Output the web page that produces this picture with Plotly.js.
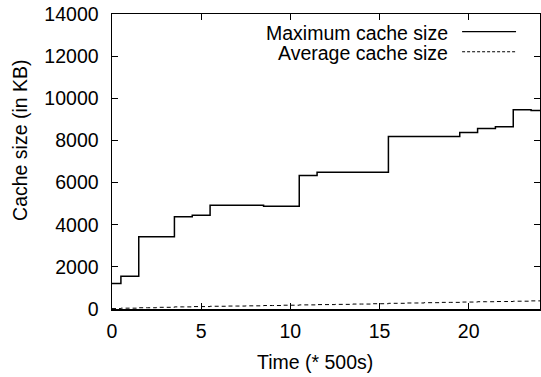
<!DOCTYPE html>
<html>
<head>
<meta charset="utf-8">
<script src="https://cdn.plot.ly/plotly-3.0.1.min.js"></script>
<style>html,body{margin:0;padding:0;background:#fff;}#chart{width:541px;height:377px;}</style>
</head>
<body>
<div id="chart"></div>
<script>
const time = [0,1,2,3,4,5,6,7,8,9,10,11,12,13,14,15,16,17,18,19,20,21,22,23,24];
const maxCache = [1210,1557,3429,3429,4381,4448,4924,4924,4924,4876,4876,6333,6495,6495,6495,6495,8190,8190,8190,8190,8381,8571,8652,9455,9425];
const avgCache = [20,40,60,80,100,115,130,140,150,165,180,195,210,220,235,250,270,285,300,315,330,345,355,370,385];
const seriesNames = ["Maximum cache size","Average cache size"];
const xTitle = "Time (* 500s)";
const yTitle = "Cache size (in KB)";

const FONT = "Liberation Sans, Arial, sans-serif";
const traces = [
  {x: time, y: maxCache, type: "scatter", mode: "lines", name: seriesNames[0],
   line: {shape: "hvh", color: "#000", width: 1.5}},
  {x: time, y: avgCache, type: "scatter", mode: "lines", name: seriesNames[1],
   line: {shape: "hvh", color: "#000", width: 1, dash: "4px,3px"}}
];
const axisCommon = {
  showgrid: false, zeroline: false, showline: true, linecolor: "#000", linewidth: 1.5,
  mirror: "allticks", ticks: "inside", ticklen: 6, tickwidth: 1, tickcolor: "#000",
  tickfont: {family: FONT, size: 19.5, color: "#000"}
};
const layout = {
  width: 541, height: 377,
  margin: {l: 112, r: 1, t: 14, b: 68},
  paper_bgcolor: "#fff", plot_bgcolor: "#fff",
  showlegend: false,
  xaxis: Object.assign({}, axisCommon, {range: [0, 24], tickvals: [0,5,10,15,20], ticklabelstandoff: 4}),
  yaxis: Object.assign({}, axisCommon, {range: [0, 14000], dtick: 2000, tickformat: "d", ticklabelstandoff: 8}),
  annotations: [
    {text: xTitle, xref: "paper", yref: "paper", x: 0.474, y: -0.178, xanchor: "center", yanchor: "middle",
     showarrow: false, font: {family: FONT, size: 19.5, color: "#000"}},
    {text: yTitle, xref: "paper", yref: "paper", x: -0.215, y: 0.573, xanchor: "center", yanchor: "middle",
     textangle: -90, showarrow: false, font: {family: FONT, size: 19.5, color: "#000"}},
    {text: seriesNames[0], xref: "paper", yref: "paper", x: 0.79, y: 0.935, xanchor: "right", yanchor: "middle",
     showarrow: false, font: {family: FONT, size: 19.5, color: "#000"}},
    {text: seriesNames[1], xref: "paper", yref: "paper", x: 0.79, y: 0.867, xanchor: "right", yanchor: "middle",
     showarrow: false, font: {family: FONT, size: 19.5, color: "#000"}}
  ],
  shapes: [
    {type: "line", xref: "paper", yref: "paper", x0: 0.818, x1: 0.944, y0: 0.94, y1: 0.94, line: {color: "#000", width: 1.2}},
    {type: "line", xref: "paper", yref: "paper", x0: 0.818, x1: 0.944, y0: 0.872, y1: 0.872, line: {color: "#000", width: 1, dash: "3px,2px"}}
  ]
};
Plotly.newPlot("chart", traces, layout, {staticPlot: true, displayModeBar: false});
</script>
</body>
</html>
